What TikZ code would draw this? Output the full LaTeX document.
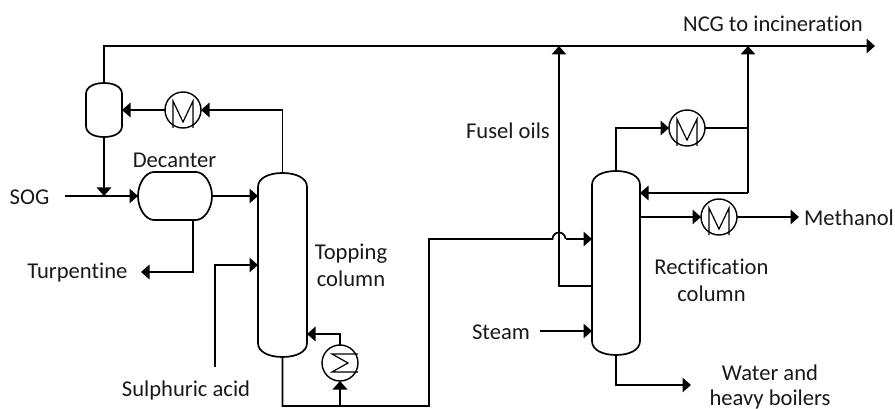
\documentclass[tikz,border=0pt]{standalone}
\usepackage{fontspec}
\setmainfont{Carlito}[Ligatures=NoCommon]
\usetikzlibrary{arrows.meta,calc}
\tikzset{
  flow/.style={line width=1.7pt,line join=miter,-{Triangle[length=8.5pt,width=14.5pt]}},
  pipe/.style={line width=1.7pt,line join=miter},
  vesselbox/.style={draw=none,inner sep=0pt,outer sep=0pt,rectangle},
  vesselline/.style={line width=1.7pt},
  exch/.style={draw,circle,line width=1.4pt,minimum size=36pt,inner sep=0pt,outer sep=0pt},
  exchmark/.style={line width=1.2pt},
  lbl/.style={font=\fontsize{22.6}{27}\selectfont,text=black!90,inner sep=0pt,align=center}
}
% name, centre x, centre y, half width, half height, dome height
\newcommand{\vesselv}[6]{%
  \node[vesselbox,minimum width=#4*2pt,minimum height=#5*2pt] (#1) at (#2,#3) {};
  \draw[vesselline] (#2-#4,#3-#5+#6) .. controls (#2-#4,#3-#5+0.35*#6) and (#2-0.55*#4,#3-#5) .. (#2,#3-#5)
    .. controls (#2+0.55*#4,#3-#5) and (#2+#4,#3-#5+0.35*#6) .. (#2+#4,#3-#5+#6)
    -- (#2+#4,#3+#5-#6)
    .. controls (#2+#4,#3+#5-0.35*#6) and (#2+0.55*#4,#3+#5) .. (#2,#3+#5)
    .. controls (#2-0.55*#4,#3+#5) and (#2-#4,#3+#5-0.35*#6) .. (#2-#4,#3+#5-#6) -- cycle;
}
\newcommand{\condenser}[1]{%
  \draw[exchmark] ($(#1.center)+(-10,18)$) -- ($(#1.center)+(-10,-9)$) -- ($(#1.center)+(0,12)$) -- ($(#1.center)+(10,-9)$) -- ($(#1.center)+(10,18)$);
}
\begin{document}
\begin{tikzpicture}[x=1pt,y=-1pt]
\useasboundingbox (0,0) rectangle (895,409);
% equipment
\vesselv{sep}{104}{110}{18}{27}{11}
\vesselv{col1}{282.5}{265}{24.5}{92}{14}
\vesselv{col2}{616}{263}{24}{92}{14}
\node[vesselbox,minimum width=74pt,minimum height=48pt] (dec) at (175,196) {};
\draw[vesselline] (dec.west) .. controls (138,183) and (146,172) .. (154,172) -- (196,172)
  .. controls (204,172) and (212,183) .. (dec.east) .. controls (212,209) and (204,220) .. (196,220)
  -- (154,220) .. controls (146,220) and (138,209) .. (dec.west) -- cycle;
\node[exch] (m1) at (183,110) {};
\node[exch] (m2) at (687,128) {};
\node[exch] (m3) at (719,217) {};
\node[exch] (reb) at (340,363) {};
\condenser{m1}\condenser{m2}\condenser{m3}
\draw[exchmark] ($(reb.center)+(18,-9)$) -- ($(reb.center)+(-8,-9)$) -- ($(reb.center)+(8,0)$) -- ($(reb.center)+(-8,9)$) -- ($(reb.center)+(18,9)$);
% free ends and junctions
\coordinate (ncgend) at (875,46);
\coordinate (sogstart) at (65,196);
\coordinate (feedjoin) at (104,196);
\coordinate (turp) at (141,272);
\coordinate (acid) at (215,367);
\coordinate (acidin) at (258,265);
\coordinate (bot) at (340,406);
\coordinate (botright) at (429,406);
\coordinate (up) at (429,239);
\coordinate (hop1) at (552.5,239);
\coordinate (hop2) at (565.5,239);
\coordinate (col2in) at (592,239);
\coordinate (fusel) at (592,286);
\coordinate (fuseltop) at (559,46);
\coordinate (rightjoin) at (748,128);
\coordinate (righttop) at (748,46);
\coordinate (reflux) at (748,193);
\coordinate (meth) at (799,217);
\coordinate (steam) at (540,331);
\coordinate (water) at (691,385);
% connectors
\draw[flow] (sep.north) |- (ncgend);
\draw[flow] (col1.north) |- (m1.east);
\draw[flow] (m1.west) -- (sep.east);
\draw[flow] (sep.south) -- (feedjoin);
\draw[flow] (sogstart) -- (dec.west);
\draw[flow] (dec.east) -- (col1.west |- dec.east);
\draw[flow] ([xshift=18pt]dec.south) |- (turp);
\draw[flow] (acid) |- (acidin);
\draw[flow] (reb.north) |- (col1.east |- 0,334);
\draw[pipe] (col1.south) |- (botright) -- (up) -- (hop1) arc[start angle=180,end angle=360,radius=6.5];
\draw[flow] (hop2) -- (col2in);
\draw[flow] (bot) -- (reb.south);
\draw[flow] (fusel) -| (fuseltop);
\draw[flow] (col2.north) |- (m2.west);
\draw[pipe] (m2.east) -- (rightjoin);
\draw[flow] (reflux) -- (righttop);
\draw[flow] (reflux) -- (col2.east |- reflux);
\draw[flow] (col2.east |- m3.west) -- (m3.west);
\draw[flow] (m3.east) -- (meth);
\draw[flow] (steam) -- (col2.west |- steam);
\draw[flow] (col2.south) |- (water);
% labels
\node[lbl] (t1) at (773,24) {NCG to incineration};
\node[lbl] (t2) at (174.5,160) {Decanter};
\node[lbl] (t3) at (29.5,197) {SOG};
\node[lbl] (t4) at (77.5,273) {Turpentine};
\node[lbl] (t5) at (351,265) {Topping\\column};
\node[lbl] (t6) at (186,390) {Sulphuric acid};
\node[lbl] (t7) at (508,131) {Fusel oils};
\node[lbl] (t8) at (501,332) {Steam};
\node[lbl] (t9) at (711.5,280.5) {Rectification\\column};
\node[lbl] (t10) at (849,218) {Methanol};
\node[lbl,font=\fontsize{22.6}{25}\selectfont] (t11) at (770,386.5) {Water and\\heavy boilers};
\end{tikzpicture}
\end{document}
